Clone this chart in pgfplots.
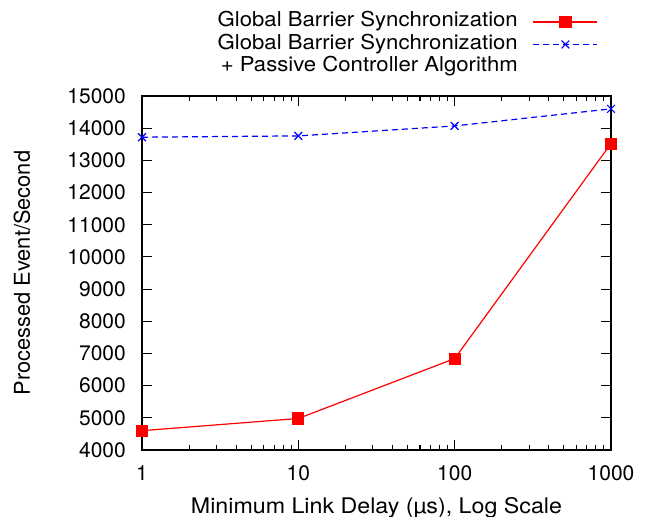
\documentclass[border=0pt]{standalone}
\usepackage{fontspec}
\setmainfont{TeX Gyre Heros}
\newfontfamily\widefont{TeX Gyre Heros}[FakeStretch=1.08]
\usepackage{pgfplots}
\pgfplotsset{compat=1.18}
\begin{document}
\fontsize{21bp}{25bp}\selectfont
\begin{tikzpicture}[x=1bp,y=1bp]
\begin{axis}[
  at={(142bp,67bp)}, anchor=south west,
  scale only axis, width=469bp, height=354bp,
  xmode=log, xmin=1, xmax=1000, ymin=4000, ymax=15000,
  xtick={1,10,100,1000}, xticklabels={1,10,100,1000},
  ytick={4000,5000,...,15000},
  scaled y ticks=false,
  /pgf/number format/assume math mode=true,
  /pgf/number format/1000 sep={},
  tick align=inside,
  major tick length=10bp, minor tick length=5bp,
  every tick/.style={black, line width=1.1bp},
  axis line style={line width=1.5bp},
  ticklabel style={font=\fontsize{21bp}{25bp}\selectfont},
  yticklabel style={inner sep=0bp, xshift=-16bp},
  xticklabel style={inner sep=0bp, yshift=-15bp},
  xlabel={Minimum Link Delay (µs), Log Scale},
  ylabel={Processed Event/Second},
  xlabel style={at={(axis description cs:0.5,-0.163)}, anchor=center, inner sep=0bp,
    font=\widefont\fontsize{21.5bp}{25bp}\selectfont},
  ylabel style={at={(axis description cs:-0.256,0.5)}, anchor=center, inner sep=0bp,
    font=\fontsize{21.8bp}{25bp}\selectfont},
  legend plot pos=right,
  legend cell align=right,
  legend style={at={(axis description cs:0.9723,1.2373)}, anchor=north east,
    draw=none, fill=none, inner sep=0bp, outer sep=0bp,
    row sep=2.5bp, column sep=15bp,
    nodes={inner sep=0bp, text height=15bp, text depth=5bp},
    font=\widefont\fontsize{20.5bp}{25bp}\selectfont},
  legend image code/.code={\draw[mark repeat=2,mark phase=2,#1] plot coordinates {(0bp,0bp) (32bp,0bp) (64bp,0bp)};},
]
\addplot[red, line width=1.2bp, mark=square*, mark size=5.5bp, mark options={solid}]
  coordinates {(1,4600) (10,4980) (100,6840) (1000,13520)};
\addlegendentry{Global Barrier Synchronization}
\addplot[blue, line width=1.2bp, dash pattern=on 6bp off 4bp, mark=x, mark size=5.5bp, mark options={solid}]
  coordinates {(1,13720) (10,13760) (100,14070) (1000,14600)};
\addlegendentry{Global Barrier Synchronization}
\addlegendimage{empty legend}
\addlegendentry{+ Passive Controller Algorithm}
\end{axis}
\pgfresetboundingbox
\path[use as bounding box] (0bp,0bp) rectangle (650bp,517bp);
\end{tikzpicture}
\end{document}
